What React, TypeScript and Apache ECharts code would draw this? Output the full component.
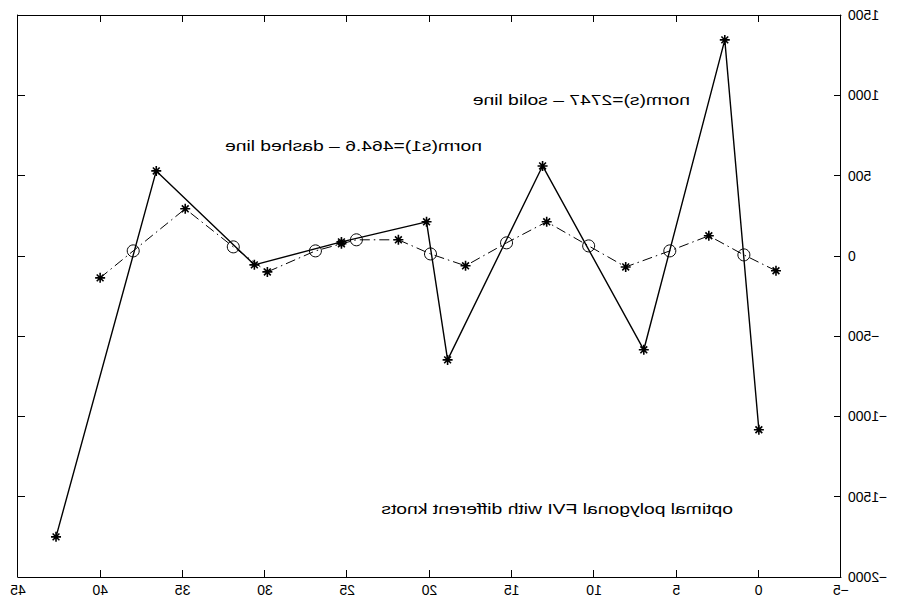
import React, { useEffect, useRef } from "react";
import * as echarts from "echarts";

// Solid line (polygonal approximation) knots
const solidX = [-0.01, 2.06, 6.98, 13.13, 18.9, 20.18, 25.35, 30.64, 36.6, 42.69];
const solidY = [-1083, 1345, -585, 560, -648, 212, 87, -56, 529, -1750];

// Dash-dot line points: "star" = sample, "knot" = circle marker
const dashedX = [-1.05, 0.9, 3.03, 5.4, 8.08, 10.33, 12.88, 15.32, 17.81, 19.94, 21.89, 24.44, 25.35, 26.93, 29.85, 31.92, 34.84, 38.0, 40.01];
const dashedY = [-93, 6, 125, 31, -69, 62, 212, 81, -62, 12, 100, 100, 75, 31, -100, 56, 293, 31, -137];
const dashedKind = ["star", "knot", "star", "knot", "star", "knot", "star", "knot", "star", "knot", "star", "knot", "star", "knot", "star", "knot", "star", "knot", "star"];

const xTicks = { min: -5, max: 45, interval: 5 };
const yTicks = { min: -2000, max: 1500, interval: 500 };

const annotations = [
  "norm(s)=2747 – solid line",
  "norm(s1)=464.6 – dashed line",
  "optimal polygonal FVI with different knots",
];

const STAR = "path://M5,0L5,10M0,5L10,5M1.6,1.6L8.4,8.4M1.6,8.4L8.4,1.6";
const FONT = "'Liberation Sans', Arial, Helvetica, sans-serif";

export default function App() {
  const ref = useRef<HTMLDivElement>(null);
  useEffect(() => {
    if (!ref.current) return;
    const chart = echarts.init(ref.current, null, { renderer: "svg" });
    const fmt = (v: number) => (v < 0 ? "\u2212" + Math.abs(v) : String(v));
    const axisCommon = {
      type: "value" as const,
      axisLine: { show: true, onZero: false, lineStyle: { color: "#000", width: 1 } },
      axisTick: { show: true, inside: true, length: 7, lineStyle: { color: "#000", width: 1 } },
      splitLine: { show: false },
    };
    const starStyle = { color: "#000", borderColor: "#000", borderWidth: 1.6 };
    const knotStyle = { color: "rgba(0,0,0,0)", borderColor: "#000", borderWidth: 1 };
    const textEl = (i: number, x: number, y: number) => ({
      type: "text",
      x,
      y,
      scaleX: 1.38,
      style: {
        text: annotations[i],
        fontSize: 14,
        fontFamily: FONT,
        fill: "#000",
        textAlign: "left",
        textVerticalAlign: "middle",
      },
    });
    chart.setOption({
      animation: false,
      backgroundColor: "#fff",
      grid: { left: 58, right: 18, top: 15, bottom: 20 },
      xAxis: [
        {
          ...axisCommon,
          position: "bottom",
          ...xTicks,
          axisLabel: { color: "#000", fontSize: 14, fontFamily: FONT, margin: 6, formatter: fmt },
        },
        { ...axisCommon, position: "top", ...xTicks, axisLabel: { show: false } },
      ],
      yAxis: [
        {
          ...axisCommon,
          position: "left",
          ...yTicks,
          axisLabel: { color: "#000", fontSize: 14, fontFamily: FONT, margin: 7, formatter: fmt },
        },
        { ...axisCommon, position: "right", ...yTicks, axisLabel: { show: false } },
      ],
      series: [
        {
          type: "line",
          xAxisIndex: 0,
          yAxisIndex: 0,
          data: solidX.map((x, i) => [x, solidY[i]]),
          symbol: STAR,
          symbolSize: 10,
          showAllSymbol: true,
          itemStyle: starStyle,
          lineStyle: { color: "#000", width: 1.4 },
          z: 3,
        },
        {
          type: "line",
          xAxisIndex: 0,
          yAxisIndex: 0,
          showAllSymbol: true,
          data: dashedX.map((x, i) =>
            dashedKind[i] === "star"
              ? { value: [x, dashedY[i]], symbol: STAR, symbolSize: 10, itemStyle: starStyle }
              : { value: [x, dashedY[i]], symbol: "circle", symbolSize: 12, itemStyle: knotStyle }
          ),
          lineStyle: { color: "#000", width: 1, type: [10, 4, 1.5, 4] },
          z: 2,
        },
      ],
      graphic: [textEl(0, 209, 100), textEl(1, 417, 146), textEl(2, 166, 509)],
    });
    return () => chart.dispose();
  }, []);
  return (
    <div
      ref={ref}
      style={{
        position: "absolute",
        left: 0,
        top: 0,
        width: 899,
        height: 597,
        transform: "scaleX(-1)",
        background: "#fff",
      }}
    />
  );
}
